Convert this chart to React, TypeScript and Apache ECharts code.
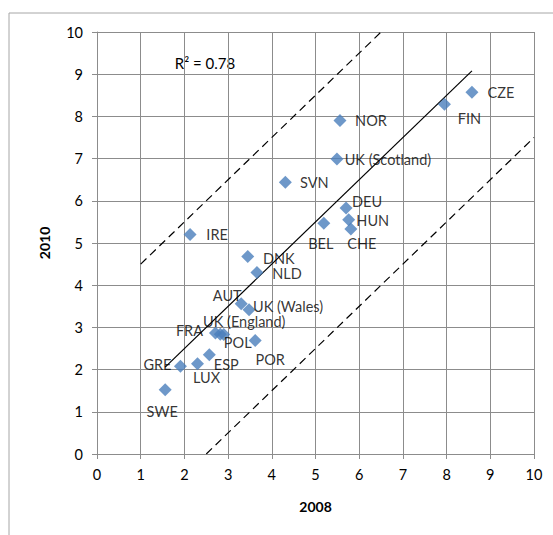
import React, { useEffect, useRef } from "react";
import * as echarts from "echarts";

const countries = ["CZE", "FIN", "NOR", "UK (Scotland)", "SVN", "DEU", "HUN", "BEL", "CHE", "IRE", "DNK", "NLD", "AUT", "UK (Wales)", "UK (England)", "FRA", "POL", "POR", "ESP", "LUX", "GRE", "SWE"];
const values2008 = [8.58, 7.95, 5.56, 5.49, 4.31, 5.70, 5.76, 5.19, 5.81, 2.13, 3.45, 3.66, 3.30, 3.48, 2.82, 2.71, 2.90, 3.62, 2.57, 2.30, 1.91, 1.56];
const values2010 = [8.57, 8.29, 7.90, 6.99, 6.44, 5.83, 5.55, 5.47, 5.33, 5.20, 4.68, 4.30, 3.56, 3.42, 2.84, 2.87, 2.83, 2.69, 2.35, 2.14, 2.08, 1.52];
// label offsets (text centre relative to the marker)
const labelOffsets: [number, number][] = [
  [29, 0], [25, 14], [31, 0], [51, 0], [29, 0], [21, -6], [24, 1], [-3, 20], [11, 14], [27, 0],
  [31, 2], [30, 1], [-14, -8], [39, -3], [24, -13], [-26, -2], [14, 8], [15, 19], [17, 10], [9, 14],
  [-23, -2], [-3, 22],
];
const trendX = [1.56, 8.58];
const trendY = [2.06, 9.08];
const upperX = [1, 6.5];
const upperY = [4.5, 10];
const lowerX = [2.5, 10];
const lowerY = [0, 7.5];
const xTicks = [0, 10, 1];
const rSquared = "R² = 0.78";

const FONT = "Lato, 'Open Sans', sans-serif";

export default function App() {
  const ref = useRef<HTMLDivElement>(null);
  useEffect(() => {
    if (!ref.current) return;
    const chart = echarts.init(ref.current, undefined, { renderer: "svg" });
    const gray = "#8c8c8c";
    const axisCommon = {
      type: "value" as const,
      min: xTicks[0],
      max: xTicks[1],
      interval: xTicks[2],
      nameLocation: "middle" as const,
      nameTextStyle: { fontFamily: FONT, fontSize: 14, fontWeight: "bold" as const, color: "#000" },
      axisLine: { show: true, onZero: false, lineStyle: { color: gray, width: 1 } },
      axisTick: { show: true, inside: false, length: 5, lineStyle: { color: gray } },
      axisLabel: { fontFamily: FONT, fontSize: 14.5, color: "#000", margin: 12 },
      splitLine: { show: true, lineStyle: { color: gray, width: 1 } },
    };
    const points = countries.map((c, i) => ({
      name: c,
      value: [values2008[i], values2010[i]],
      label: { offset: labelOffsets[i] },
    }));
    const lineStyleSeries = (xs: number[], ys: number[], type: "solid" | "dashed") => ({
      type: "line" as const,
      data: xs.map((x, i) => [x, ys[i]]),
      symbol: "none",
      silent: true,
      lineStyle: { color: "#000", width: 1.2, type: type === "dashed" ? [8, 5] : "solid" },
      z: 1,
    });
    chart.setOption({
      animation: false,
      backgroundColor: "#fff",
      grid: { left: 97, top: 32, width: 437, height: 422, containLabel: false },
      xAxis: { ...axisCommon, name: "2008", nameGap: 45, axisLabel: { ...axisCommon.axisLabel, margin: 13 } },
      yAxis: { ...axisCommon, name: "2010", nameGap: 46, axisLabel: { ...axisCommon.axisLabel, margin: 14 } },
      series: [
        lineStyleSeries(upperX, upperY, "dashed"),
        lineStyleSeries(lowerX, lowerY, "dashed"),
        lineStyleSeries(trendX, trendY, "solid"),
        {
          type: "scatter",
          data: points,
          symbol: "diamond",
          symbolSize: 13,
          itemStyle: { color: "#4A7EBB" },
          label: {
            show: true,
            position: "inside",
            formatter: (p: any) => p.name,
            fontFamily: FONT,
            fontSize: 14.5,
            color: "#000",
          },
          z: 3,
        },
      ],
      graphic: [
        { type: "line", shape: { x1: 9, y1: 13, x2: 553, y2: 13 }, style: { stroke: "#a6a6a6", lineWidth: 1 } },
        { type: "line", shape: { x1: 9, y1: 13, x2: 9, y2: 535 }, style: { stroke: "#a6a6a6", lineWidth: 1 } },
        {
          type: "text",
          x: 205,
          y: 63,
          style: { text: rSquared, font: `15px ${FONT}`, fill: "#000", align: "center", verticalAlign: "middle" },
        },
      ],
    });
    return () => chart.dispose();
  }, []);
  return <div ref={ref} style={{ position: "absolute", left: 0, top: 0, width: 553, height: 535 }} />;
}
